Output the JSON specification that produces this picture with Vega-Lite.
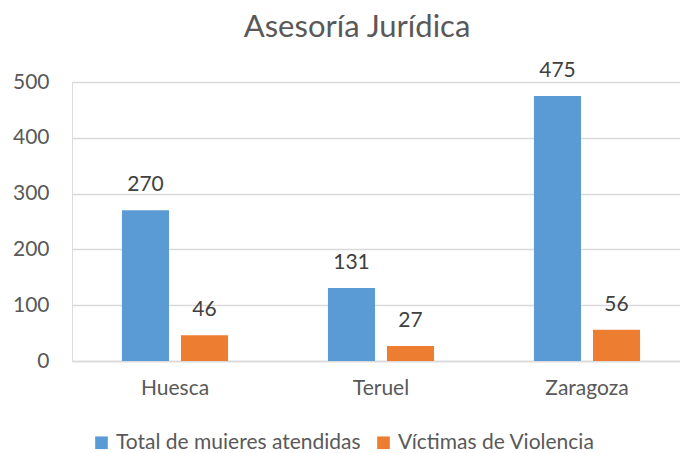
{
  "$schema": "https://vega.github.io/schema/vega-lite/v6.json",
  "autosize": "none",
  "width": 618,
  "height": 279,
  "padding": {"left": 72, "top": 82, "right": -10, "bottom": 92},
  "background": "white",
  "title": {"text": "Asesoría Jurídica", "fontSize": 31, "font": "Lato", "fontWeight": "normal", "color": "#595959", "anchor": "middle", "frame": "group", "dx": -24, "offset": 16},
  "data": {"values": [
    {"provincia": "Huesca", "serie": "Total de muieres atendidas", "valor": 270},
    {"provincia": "Huesca", "serie": "Víctimas de Violencia", "valor": 46},
    {"provincia": "Teruel", "serie": "Total de muieres atendidas", "valor": 131},
    {"provincia": "Teruel", "serie": "Víctimas de Violencia", "valor": 27},
    {"provincia": "Zaragoza", "serie": "Total de muieres atendidas", "valor": 475},
    {"provincia": "Zaragoza", "serie": "Víctimas de Violencia", "valor": 56}
  ]},
  "encoding": {
    "x": {"field": "provincia", "type": "nominal", "sort": null,
      "scale": {"paddingInner": 0.485, "paddingOuter": 0.2425},
      "axis": {"title": null, "labelAngle": 0, "ticks": false, "labelPadding": 16, "labelFontSize": 21, "labelFont": "Lato", "labelColor": "#595959", "domainColor": "#d9d9d9", "domainWidth": 1.5, "grid": false}},
    "xOffset": {"field": "serie", "type": "nominal", "scale": {"paddingInner": 0.203}},
    "y": {"field": "valor", "type": "quantitative",
      "scale": {"domain": [0, 500]},
      "axis": {"title": null, "values": [0, 100, 200, 300, 400, 500], "ticks": false, "domain": false, "labelPadding": 23, "labelFontSize": 21, "labelFont": "Lato", "labelColor": "#595959", "gridColor": "#d9d9d9", "gridWidth": 1.5}}
  },
  "layer": [
    {"mark": {"type": "bar"},
     "encoding": {"color": {"field": "serie", "type": "nominal",
       "scale": {"domain": ["Total de muieres atendidas", "Víctimas de Violencia"], "range": ["#5B9BD5", "#ED7D31"]},
       "legend": {"title": null, "orient": "none", "legendX": 19, "legendY": 350, "direction": "horizontal", "symbolType": "square", "symbolSize": 160, "symbolStrokeWidth": 0, "labelFontSize": 21, "labelFont": "Lato", "labelColor": "#595959", "labelOffset": 4, "labelLimit": 0, "columnPadding": 12}}}},
    {"mark": {"type": "text", "baseline": "middle", "dy": -25, "fontSize": 21, "font": "Lato", "color": "#404040"},
     "encoding": {"text": {"field": "valor", "type": "quantitative"}}}
  ]
}
